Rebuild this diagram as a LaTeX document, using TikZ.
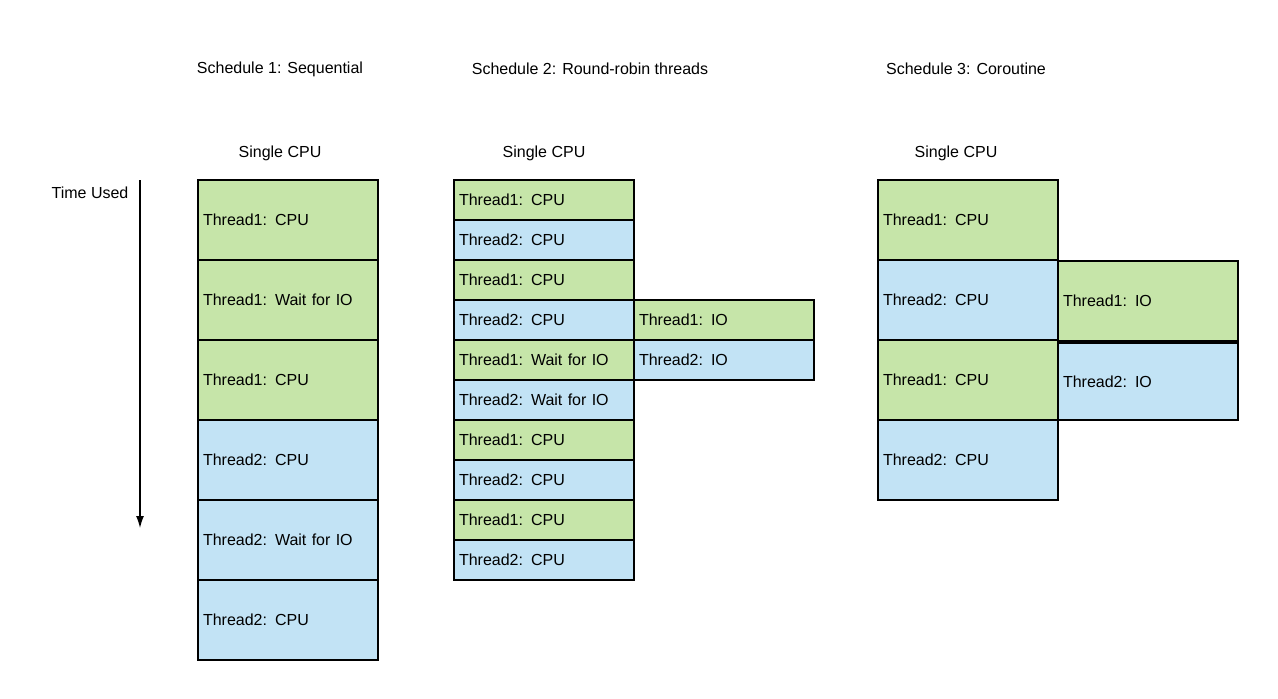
\documentclass[tikz,border=0pt]{standalone}
\usepackage{fontspec}
\setmainfont{Liberation Sans}
\usetikzlibrary{arrows.meta}
\definecolor{gr}{HTML}{C6E5A9}
\definecolor{bl}{HTML}{C2E3F5}
\begin{document}
\begin{tikzpicture}[x=1pt,y=-1pt,font=\fontsize{16}{19}\selectfont,
 box/.style={draw=black,line width=1.2pt,anchor=north west,minimum width=180pt,inner sep=0pt,outer sep=0pt,text width=170pt,align=left},
 g/.style={box,fill=gr},b/.style={box,fill=bl},
 big/.style={minimum height=80pt},sm/.style={minimum height=40pt},
 lbl/.style={inner sep=0pt}]
\useasboundingbox (0,0) rectangle (1278,699);
\node[lbl] (t1) at (280,69) {Schedule 1: Sequential};
\node[lbl] (t2) at (590,69) {Schedule 2: Round-robin threads};
\node[lbl] (t3) at (966,69) {Schedule 3: Coroutine};
\node[lbl] (c1) at (280,153) {Single CPU};
\node[lbl] (c2) at (544,153) {Single CPU};
\node[lbl] (c3) at (956,153) {Single CPU};
\node[lbl] (tu) at (90,193) {Time Used};
\coordinate (as) at (140,180); \coordinate (ae) at (140,528);
\draw[line width=1.2pt,-{Latex[length=12pt,width=8pt]}] (as) -- (ae);
% schedule 1
\node[g,big] (a1) at (198,180) {Thread1: CPU};
\node[g,big] (a2) at (198,260) {Thread1: Wait for IO};
\node[g,big] (a3) at (198,340) {Thread1: CPU};
\node[b,big] (a4) at (198,420) {Thread2: CPU};
\node[b,big] (a5) at (198,500) {Thread2: Wait for IO};
\node[b,big] (a6) at (198,580) {Thread2: CPU};
% schedule 2
\node[g,sm] (b1) at (454,180) {Thread1: CPU};
\node[b,sm] (b2) at (454,220) {Thread2: CPU};
\node[g,sm] (b3) at (454,260) {Thread1: CPU};
\node[b,sm] (b4) at (454,300) {Thread2: CPU};
\node[g,sm] (b5) at (454,340) {Thread1: Wait for IO};
\node[b,sm] (b6) at (454,380) {Thread2: Wait for IO};
\node[g,sm] (b7) at (454,420) {Thread1: CPU};
\node[b,sm] (b8) at (454,460) {Thread2: CPU};
\node[g,sm] (b9) at (454,500) {Thread1: CPU};
\node[b,sm] (b10) at (454,540) {Thread2: CPU};
\node[g,sm] (i1) at (634,300) {Thread1: IO};
\node[b,sm] (i2) at (634,340) {Thread2: IO};
% schedule 3
\node[g,big] (d1) at (878,180) {Thread1: CPU};
\node[b,big] (d2) at (878,260) {Thread2: CPU};
\node[g,big] (d3) at (878,340) {Thread1: CPU};
\node[b,big] (d4) at (878,420) {Thread2: CPU};
\node[g,big] (j1) at (1058,261) {Thread1: IO};
\node[b,minimum height=77pt] (j2) at (1058,343) {Thread2: IO};
\end{tikzpicture}
\end{document}
